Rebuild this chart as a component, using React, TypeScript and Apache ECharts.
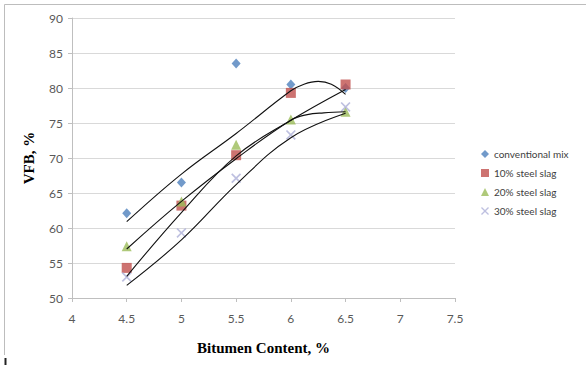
import React, { useEffect, useRef } from "react";
import * as echarts from "echarts";

// Bitumen content (%) at which the mixes were tested
const bitumenContent = [4.5, 5, 5.5, 6, 6.5];

// Measured VFB (%) per mix
const conventionalMix = [62.1, 66.5, 83.5, 80.5, 80.0];
const steelSlag10 = [54.3, 63.2, 70.4, 79.3, 80.5];
const steelSlag20 = [57.4, 63.8, 71.9, 75.5, 76.6];
const steelSlag30 = [53.0, 59.3, 67.1, 73.3, 77.3];

// Trend lines
const trendConventionalX = [4.5, 5, 5.5, 6, 6.12, 6.25, 6.37, 6.5];
const trendConventionalY = [60.9, 67.7, 73.5, 79.6, 80.55, 80.95, 80.55, 79.1];
const trend10X = [4.5, 5, 5.5, 6, 6.5];
const trend10Y = [53.1, 62.2, 70.3, 75.4, 79.8];
const trend20X = [4.5, 5, 5.5, 6, 6.15, 6.3, 6.5];
const trend20Y = [57.0, 63.8, 69.9, 75.4, 76.2, 76.45, 76.6];
const trend30X = [4.5, 5, 5.5, 6, 6.5];
const trend30Y = [51.8, 58.3, 66.2, 72.9, 76.4];

// Axis settings
const xMin = 4;
const xMax = 7.5;
const xStep = 0.5;
const yMin = 50;
const yMax = 90;
const yStep = 5;

const seriesNames = [
  "conventional mix",
  "10% steel slag",
  "20% steel slag",
  "30% steel slag",
];

const crossPath =
  "path://M0,1.2L1.2,0L5,3.8L8.8,0L10,1.2L6.2,5L10,8.8L8.8,10L5,6.2L1.2,10L0,8.8L3.8,5Z";

const pairs = (xs: number[], ys: number[]) => xs.map((x, i) => [x, ys[i]]);

export default function App() {
  const ref = useRef<HTMLDivElement>(null);

  useEffect(() => {
    if (!ref.current) return;
    const chart = echarts.init(ref.current, undefined, { renderer: "svg" });

    const labelFont = "Lato, 'Open Sans', sans-serif";
    const serifFont = "'Liberation Serif', 'DejaVu Serif', serif";

    const scatterBase = {
      type: "scatter" as const,
      z: 2,
    };
    const trendBase = {
      type: "line" as const,
      smooth: 0.4,
      symbol: "none",
      silent: true,
      z: 5,
      lineStyle: { color: "#111111", width: 1.1 },
    };

    chart.setOption({
      animation: false,
      backgroundColor: "#ffffff",
      grid: { left: 72, right: 131, top: 18, bottom: 67 },
      xAxis: {
        type: "value",
        min: xMin,
        max: xMax,
        interval: xStep,
        name: "Bitumen Content, %",
        nameLocation: "middle",
        nameGap: 42,
        nameTextStyle: {
          fontFamily: serifFont,
          fontWeight: "bold",
          fontSize: 15,
          color: "#000000",
        },
        axisLine: { show: true, lineStyle: { color: "#BFBFBF", width: 1 } },
        axisTick: { show: true, length: 4, inside: false, lineStyle: { color: "#BFBFBF" } },
        axisLabel: {
          margin: 14,
          fontFamily: labelFont,
          fontSize: 12,
          color: "#595959",
        },
        splitLine: { show: false },
      },
      yAxis: {
        type: "value",
        min: yMin,
        max: yMax,
        interval: yStep,
        axisLine: { show: true, lineStyle: { color: "#BFBFBF", width: 1 } },
        axisTick: { show: true, length: 4, inside: false, lineStyle: { color: "#BFBFBF" } },
        axisLabel: {
          margin: 9,
          fontFamily: labelFont,
          fontSize: 12,
          color: "#595959",
        },
        splitLine: { show: true, lineStyle: { color: "#D9D9D9", width: 1 } },
      },
      legend: {
        orient: "vertical",
        left: 476,
        top: 144,
        itemWidth: 8,
        itemHeight: 8,
        itemGap: 9,
        data: seriesNames,
        textStyle: { fontFamily: labelFont, fontSize: 10, color: "#404040" },
      },
      series: [
        {
          ...scatterBase,
          name: seriesNames[0],
          symbol: "diamond",
          symbolSize: [9, 10],
          itemStyle: { color: "#4F81BD" },
          data: pairs(bitumenContent, conventionalMix),
        },
        {
          ...scatterBase,
          name: seriesNames[1],
          symbol: "rect",
          symbolSize: 10,
          itemStyle: { color: "#C0504D" },
          data: pairs(bitumenContent, steelSlag10),
        },
        {
          ...scatterBase,
          name: seriesNames[2],
          symbol: "triangle",
          symbolSize: 10,
          itemStyle: { color: "#9BBB59" },
          data: pairs(bitumenContent, steelSlag20),
        },
        {
          ...scatterBase,
          name: seriesNames[3],
          symbol: crossPath,
          symbolSize: 10,
          itemStyle: { color: "#AEB0D8" },
          data: pairs(bitumenContent, steelSlag30),
        },
        { ...trendBase, name: "trend-conventional", data: pairs(trendConventionalX, trendConventionalY) },
        { ...trendBase, name: "trend-10", data: pairs(trend10X, trend10Y) },
        { ...trendBase, name: "trend-20", data: pairs(trend20X, trend20Y) },
        { ...trendBase, name: "trend-30", data: pairs(trend30X, trend30Y) },
      ],
      graphic: [
        {
          type: "text",
          x: 28.5,
          y: 158,
          rotation: Math.PI / 2,
          style: {
            text: "VFB, %",
            fontFamily: serifFont,
            fontWeight: "bold",
            fontSize: 15,
            fill: "#000000",
            textAlign: "center",
            textVerticalAlign: "middle",
          },
        },
        {
          type: "line",
          shape: { x1: 4.5, y1: 4.5, x2: 586, y2: 4.5 },
          style: { stroke: "#BDBDBD", lineWidth: 1 },
        },
        {
          type: "line",
          shape: { x1: 4.5, y1: 4.5, x2: 4.5, y2: 355 },
          style: { stroke: "#BDBDBD", lineWidth: 1 },
        },
        {
          type: "line",
          shape: { x1: 5.5, y1: 358, x2: 5.5, y2: 365 },
          style: { stroke: "#222222", lineWidth: 2 },
        },
      ],
    });

    return () => chart.dispose();
  }, []);

  return (
    <div
      ref={ref}
      style={{ position: "fixed", left: 0, top: 0, width: 586, height: 365, background: "#fff" }}
    />
  );
}
